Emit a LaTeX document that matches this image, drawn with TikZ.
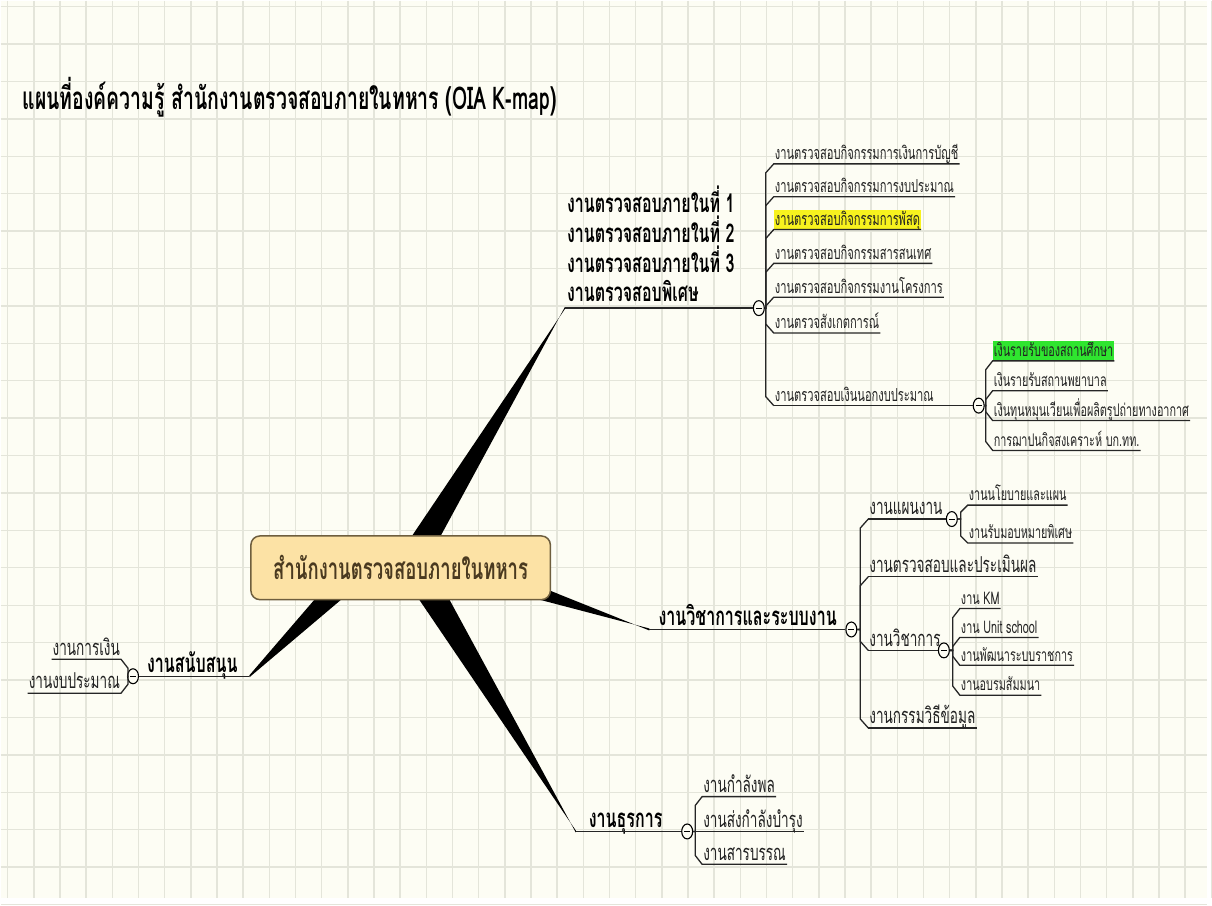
\documentclass[tikz,border=0pt]{standalone}
\usepackage{fontspec}
\newfontfamily\thai[Script=Thai,FakeStretch=0.62]{Loma}
\usetikzlibrary{calc,shapes.geometric}
\definecolor{bgc}{HTML}{FDFDF4}
\definecolor{gridc}{HTML}{E4E5DA}
\definecolor{rootfill}{HTML}{FCE2A5}
\definecolor{rootdraw}{HTML}{6E5E3E}
\definecolor{roottext}{HTML}{4A3A20}
\definecolor{txt}{HTML}{222222}
\definecolor{hlyellow}{HTML}{F7F21E}
\definecolor{hlgreen}{HTML}{2FE52F}
\pgfdeclarelayer{gridlayer}
\pgfdeclarelayer{wedgelayer}
\pgfsetlayers{gridlayer,wedgelayer,main}
\begin{document}
\begin{tikzpicture}[x=1pt,y=-1pt,
  lbl/.style={font=\thai\fontsize{18}{20}\selectfont, text=txt, inner xsep=1pt, inner ysep=1pt, text depth=3pt, anchor=south west},
  lblsm/.style={lbl, font=\thai\fontsize{17.5}{19}\selectfont},
  lblmd/.style={lbl, font=\thai\fontsize{22}{24}\selectfont},
  branch/.style={font=\thai\bfseries\fontsize{26}{30}\selectfont, text=black, inner xsep=1pt, inner ysep=1pt, text depth=3pt, anchor=south west, align=left},
  tog/.style={ellipse, draw=black, line width=1.1pt, fill=bgc, minimum width=11pt, minimum height=15pt, inner sep=0pt,
    path picture={\draw[line width=1.1pt] ([xshift=-3pt]path picture bounding box.center) -- ([xshift=3pt]path picture bounding box.center);}},
  ul/.style={line width=1.3pt, draw=black!85},
  wedge/.style={fill=black}
]
\begin{pgfonlayer}{gridlayer}
\fill[bgc] (0,0) rectangle (1212,902);
\foreach \i in {0,...,46} \draw[gridc, line width=1.4pt] ({7+26.3*\i},0) -- ({7+26.3*\i},902);
\foreach \j in {0,...,24} \draw[gridc, line width=1.4pt] (0,{6+37.6*\j}) -- (1212,{6+37.6*\j});
\end{pgfonlayer}
\useasboundingbox (0,0) rectangle (1212,902);

% title
\node[font=\thai\bfseries\fontsize{31.5}{36}\selectfont, text=black, anchor=base west, inner sep=0pt] (title) at (22,109)
  {แผนที่องค์ความรู้ สำนักงานตรวจสอบภายในทหาร (OIA K-map)};

% root
\node[rounded corners=9pt, fill=rootfill, draw=rootdraw, line width=1.5pt, minimum width=301pt, minimum height=64pt,
  font=\thai\bfseries\fontsize{30}{34}\selectfont, text=roottext] (root) at (402,570) {สำนักงานตรวจสอบภายในทหาร};

% ---------- top branch ----------
\coordinate (t1) at (567,309);
\node[branch] (p1) at (568,307) {งานตรวจสอบภายในที่ 1\\งานตรวจสอบภายในที่ 2\\งานตรวจสอบภายในที่ 3\\งานตรวจสอบพิเศษ};
\node[tog] (c1) at (762,309) {};
\draw[ul] (t1) -- (c1.west);
\node[lbl] (k11) at (777,164) {งานตรวจสอบกิจกรรมการเงินการบัญชี};
\node[lbl] (k12) at (777,197) {งานตรวจสอบกิจกรรมการงบประมาณ};
\node[lbl, fill=hlyellow] (k13) at (777,230) {งานตรวจสอบกิจกรรมการพัสดุ};
\node[lbl] (k14) at (777,264) {งานตรวจสอบกิจกรรมสารสนเทศ};
\node[lbl] (k15) at (777,298) {งานตรวจสอบกิจกรรมงานโครงการ};
\node[lbl] (k16) at (777,334) {งานตรวจสังเกตการณ์};
\node[lbl] (k17) at (777,407) {งานตรวจสอบเงินนอกงบประมาณ};
\foreach \k in {k11,k12,k13,k14,k15}
  \draw[ul] (\k.south east) -- (\k.south west) -- ++(-8,9) |- (c1.east);
\foreach \k in {k16}
  \draw[ul] (\k.south east) -- (\k.south west) -- ++(-8,-9) |- (c1.east);
\draw[ul] (k17.south west) -- ++(-8,-9) |- (c1.east);
\node[tog] (c2) at (983,407) {};
\draw[ul] (k17.south west) -- (c2.west);
\node[lblsm, fill=hlgreen] (k21) at (997,362) {เงินรายรับของสถานศึกษา};
\node[lblsm] (k22) at (997,392) {เงินรายรับสถานพยาบาล};
\node[lblsm] (k23) at (997,422) {เงินทุนหมุนเวียนเพื่อผลิตรูปถ่ายทางอากาศ};
\node[lblsm] (k24) at (997,452) {การฌาปนกิจสงเคราะห์ บก.ทท.};
\foreach \k in {k21,k22}
  \draw[ul] (\k.south east) -- (\k.south west) -- ++(-7,9) |- (c2.east);
\foreach \k in {k23,k24}
  \draw[ul] (\k.south east) -- (\k.south west) -- ++(-7,-9) |- (c2.east);

% ---------- right branch ----------
\coordinate (t3) at (652,632);
\node[branch] (p3) at (660,632) {งานวิชาการและระบบงาน};
\node[tog] (c3) at (855,632) {};
\draw[ul] (t3) -- (c3.west);
\node[lblmd] (k31) at (872,521) {งานแผนงาน};
\node[lblmd] (k32) at (872,579) {งานตรวจสอบและประเมินผล};
\node[lblmd] (k33) at (872,653) {งานวิชาการ};
\node[lblmd] (k34) at (872,731) {งานกรรมวิธีข้อมูล};
\foreach \k in {k31,k32}
  \draw[ul] (\k.south west) -- ++(-8,9) |- (c3.east);
\draw[ul] (k32.south east) -- (k32.south west);
\foreach \k in {k33,k34}
  \draw[ul] (\k.south west) -- ++(-8,-9) |- (c3.east);
\draw[ul] (k34.south east) -- (k34.south west);
\node[tog] (c5) at (956,521) {};
\draw[ul] (k31.south west) -- (c5.west);
\node[lblsm] (k51) at (972,507) {งานนโยบายและแผน};
\node[lblsm] (k52) at (972,545) {งานรับมอบหมายพิเศษ};
\draw[ul] (k51.south east) -- (k51.south west) -- ++(-7,7) |- (c5.east);
\draw[ul] (k52.south east) -- (k52.south west) -- ++(-7,-7) |- (c5.east);
\node[tog] (c4) at (948,653) {};
\draw[ul] (k33.south west) -- (c4.west);
\node[lblsm] (k41) at (964,611) {งาน KM};
\node[lblsm] (k42) at (964,640) {งาน Unit school};
\node[lblsm] (k43) at (964,668) {งานพัฒนาระบบราชการ};
\node[lblsm] (k44) at (964,698) {งานอบรมสัมมนา};
\foreach \k in {k41,k42}
  \draw[ul] (\k.south east) -- (\k.south west) -- ++(-7,9) |- (c4.east);
\foreach \k in {k43,k44}
  \draw[ul] (\k.south east) -- (\k.south west) -- ++(-7,-9) |- (c4.east);

% ---------- bottom branch ----------
\coordinate (t6) at (578,835);
\node[branch] (p6) at (590,835) {งานธุรการ};
\node[tog] (c6) at (690,835) {};
\draw[ul] (t6) -- (c6.west);
\node[lblmd] (k61) at (705,800) {งานกำลังพล};
\node[lblmd] (k62) at (705,835) {งานส่งกำลังบำรุง};
\node[lblmd] (k63) at (705,868) {งานสารบรรณ};
\draw[ul] (k61.south east) -- (k61.south west) -- ++(-7,9) |- (c6.east);
\draw[ul] (k62.south east) -- (c6.east);
\draw[ul] (k63.south east) -- (k63.south west) -- ++(-7,-9) |- (c6.east);

% ---------- left branch ----------
\coordinate (t7) at (250,679);
\node[branch] (p7) at (146,679) {งานสนับสนุน};
\node[tog] (c7) at (133,679) {};
\draw[ul] (t7) -- (c7.east);
\node[lblmd, anchor=south east] (k71) at (121,662) {งานการเงิน};
\node[lblmd, anchor=south east] (k72) at (121,696) {งานงบประมาณ};
\draw[ul] (k71.south west) -- (k71.south east) -- ++(7,9) |- (c7.west);
\draw[ul] (k72.south west) -- (k72.south east) -- ++(7,-9) |- (c7.west);

% ---------- wedges ----------
\begin{pgfonlayer}{wedgelayer}
\coordinate (b1) at ($(root.center)+(8,-2)$);
\coordinate (b3) at ($(root.center)+(38,-8)$);
\coordinate (b6) at ($(root.center)+(13,-3)$);
\coordinate (b7) at ($(root.center)+(-42,0)$);
\fill[wedge] ($(b1)!14pt!90:(t1)$) -- ([yshift=-1pt]t1) -- ([yshift=1pt]t1) -- ($(b1)!14pt!-90:(t1)$) -- cycle;
\fill[wedge] ($(b3)!13pt!90:(t3)$) -- ([yshift=-1pt]t3) -- ([yshift=1pt]t3) -- ($(b3)!13pt!-90:(t3)$) -- cycle;
\fill[wedge] ($(b6)!15pt!90:(t6)$) -- ([yshift=-1pt]t6) -- ([yshift=1pt]t6) -- ($(b6)!15pt!-90:(t6)$) -- cycle;
\fill[wedge] ($(b7)!13pt!90:(t7)$) -- ([yshift=-1pt]t7) -- ([yshift=1pt]t7) -- ($(b7)!13pt!-90:(t7)$) -- cycle;
\end{pgfonlayer}
\end{tikzpicture}
\end{document}
